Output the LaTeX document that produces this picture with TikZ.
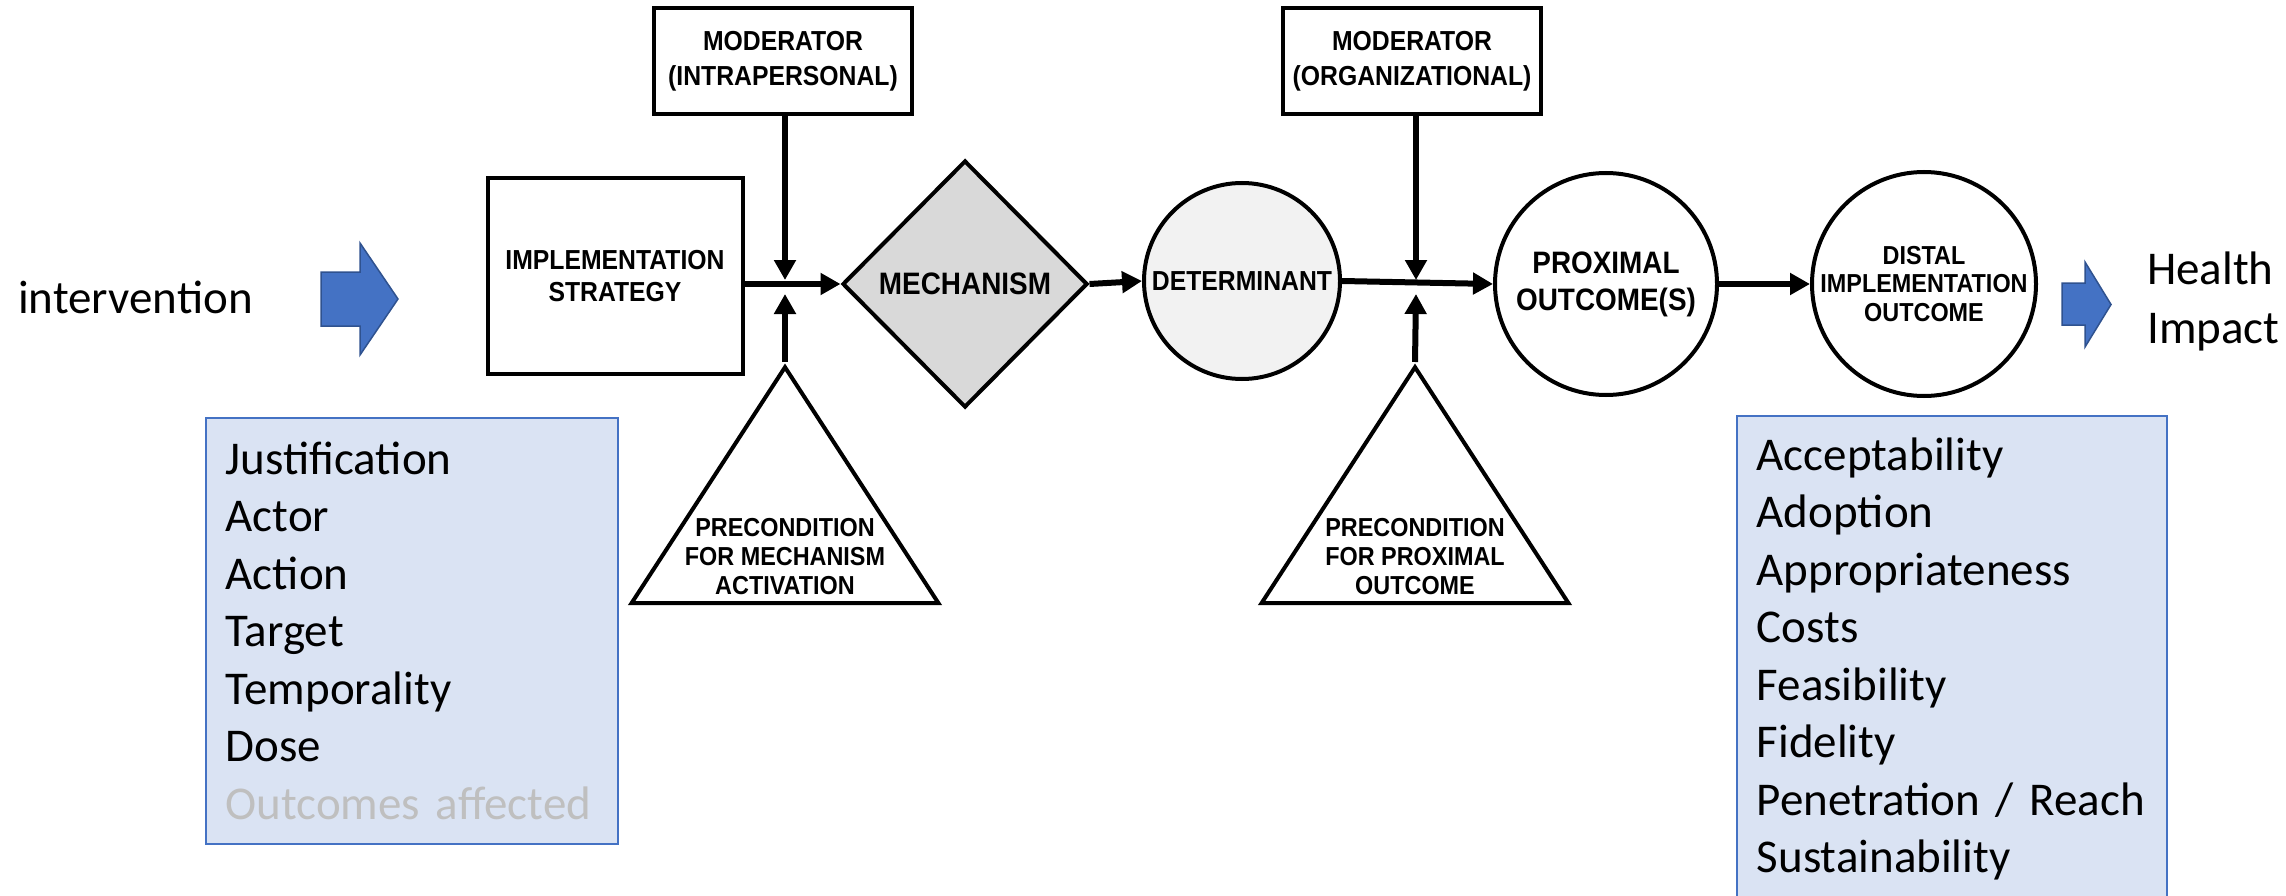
\documentclass[tikz,border=0pt]{standalone}
\usepackage{fontspec}
\setmainfont{Carlito}
\newfontfamily\diagfont{Liberation Sans}[FakeStretch=0.9]
\usetikzlibrary{arrows.meta,positioning,shapes.geometric}
\definecolor{listfill}{HTML}{DAE3F3}
\definecolor{listedge}{HTML}{4472C4}
\definecolor{arrowblue}{HTML}{4472C4}
\definecolor{arrowedge}{HTML}{2F528F}
\definecolor{fadedtext}{HTML}{BFBFBF}
\definecolor{mechgray}{HTML}{D9D9D9}
\definecolor{detgray}{HTML}{F2F2F2}

\begin{document}
\begin{tikzpicture}[
    x=1pt, y=-1pt,
    every node/.style={inner sep=0pt},
    moderator/.style={draw, line width=4pt, minimum width=258pt, minimum height=106pt, align=center, font=\diagfont\bfseries\fontsize{27.5}{35}\selectfont},
    strategy/.style={draw, line width=4pt, minimum width=255pt, minimum height=195pt, align=center, font=\diagfont\bfseries\fontsize{27.5}{32}\selectfont},
    mechanism/.style={diamond, draw, line width=4pt, fill=mechgray, minimum width=245pt, minimum height=247pt, font=\diagfont\bfseries\fontsize{31}{34}\selectfont},
    outcome/.style={circle, draw, line width=4pt, align=center},
    precond/.style={isosceles triangle, shape border rotate=90, isosceles triangle stretches, draw, line width=4pt, minimum width=307pt, minimum height=236pt},
    precondtext/.style={align=center, font=\diagfont\bfseries\fontsize{26}{29}\selectfont},
    listbox/.style={draw=listedge, line width=1.5pt, fill=listfill, anchor=north west, align=left, inner xsep=20pt, inner ysep=22pt, font=\fontsize{47}{57.5}\selectfont},
    bigtext/.style={font=\fontsize{47}{59}\selectfont},
    blockarrow/.style={fill=arrowblue, draw=arrowedge, line width=1.5pt},
    flow/.style={-{Triangle[length=20pt, width=21pt]}, line width=6pt},
    modflow/.style={-{Triangle[length=20pt, width=21pt]}, line width=6pt}
]
\useasboundingbox (0,0) rectangle (2286,896);
\clip (0,0) rectangle (2286,896);

\node[bigtext, anchor=base west] (intervention) at (18,313) {intervention};
\draw[blockarrow] (321,272) -- (360,272) -- (360,243) -- (398,299) -- (360,355) -- (360,326) -- (321,326) -- cycle;

\node[strategy] (strategy) at (615,276) {IMPLEMENTATION\\STRATEGY};
\node[moderator] (modintra) at (783,61) {MODERATOR\\(INTRAPERSONAL)};
\node[mechanism] (mechanism) at (965,284) {MECHANISM};
\node[outcome, fill=detgray, minimum size=196pt, font=\diagfont\bfseries\fontsize{27.5}{30}\selectfont] (determinant) at (1242,281) {DETERMINANT};
\node[moderator] (modorg) at (1412,61) {MODERATOR\\(ORGANIZATIONAL)};
\node[outcome, minimum size=222pt, font=\diagfont\bfseries\fontsize{31}{37}\selectfont] (proximal) at (1606,284) {PROXIMAL\\OUTCOME(S)};
\node[outcome, minimum size=224pt, font=\diagfont\bfseries\fontsize{26}{28.5}\selectfont] (distal) at (1924,284) {DISTAL\\IMPLEMENTATION\\OUTCOME};

\node[precond, anchor=apex] (precondA) at (785,362) {};
\node[precondtext, above=10pt of precondA.south] (precondAtext) {PRECONDITION\\FOR MECHANISM\\ACTIVATION};
\node[precond, anchor=apex] (precondB) at (1415,362) {};
\node[precondtext, above=10pt of precondB.south] (precondBtext) {PRECONDITION\\FOR PROXIMAL\\OUTCOME};

\coordinate (joinA) at (785,284);
\coordinate (joinB) at (1416,284);
\draw[flow] (strategy.east |- mechanism.west) -- (mechanism.west);
\draw[modflow] (modintra.south -| joinA) -- ([yshift=4pt]joinA);
\draw[modflow] (precondA.apex) -- ([yshift=-10pt]joinA);
\draw[flow] (mechanism.east) -- (determinant.west);
\draw[flow] (determinant.east) -- (proximal.west);
\draw[modflow] (modorg.south -| joinB) -- ([yshift=4pt]joinB);
\draw[modflow] (precondB.apex) -- ([yshift=-10pt]joinB);
\draw[flow] (proximal.east) -- (distal.west);

\draw[blockarrow] (2062,283) -- (2085,283) -- (2085,262) -- (2111,304.5) -- (2085,347) -- (2085,325) -- (2062,325) -- cycle;
\node[bigtext, align=left, anchor=west] (impact) at (2147,301) {Health\\Impact};

\node[listbox, text width=372pt, minimum height=426pt] (strategyitems) at (205,417) {Justification\\Actor\\Action\\Target\\Temporality\\Dose\\\textcolor{fadedtext}{Outcomes affected}};
\node[listbox, text width=390pt] (outcomeitems) at (1736,415) {Acceptability\\Adoption\\Appropriateness\\Costs\\Feasibility\\Fidelity\\Penetration / Reach\\Sustainability};
\end{tikzpicture}
\end{document}
